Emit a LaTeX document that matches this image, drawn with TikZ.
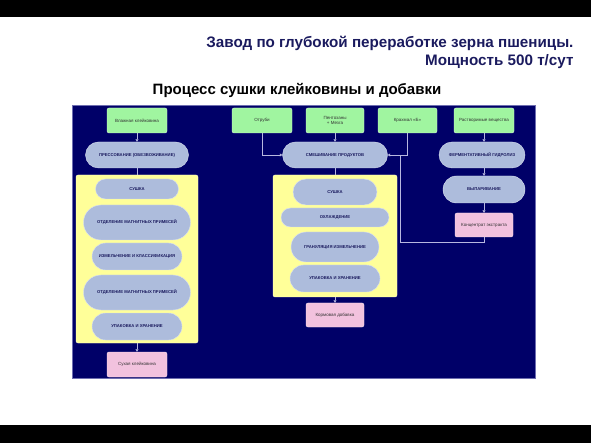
\documentclass[tikz,border=0pt]{standalone}
\usepackage{fontspec}
\setmainfont{Liberation Sans}
\usetikzlibrary{arrows.meta}
\definecolor{panelblue}{HTML}{000068}
\definecolor{boxgreen}{HTML}{A0F5A0}
\definecolor{pillblue}{HTML}{ADBCDC}
\definecolor{boxyellow}{HTML}{FFFF99}
\definecolor{boxpink}{HTML}{F2C2DE}
\definecolor{titleblue}{HTML}{1A1A5E}
\definecolor{linegray}{HTML}{B8B8E0}
\begin{document}
\begin{tikzpicture}[x=1pt,y=-1pt,
  source/.style={draw=white!60!boxgreen, fill=boxgreen, rounded corners=2pt, minimum width=60pt, minimum height=25pt, inner sep=1pt, align=center, text=black!80, font=\fontsize{4.5}{5.2}\selectfont},
  product/.style={source, draw=white!60!boxpink, fill=boxpink},
  stage/.style 2 args={draw=white!55!pillblue, fill=pillblue, minimum width=#1pt, minimum height=#2pt, rounded corners=#2pt/2, inner sep=0pt, text=titleblue, font=\fontsize{4.2}{5}\selectfont\bfseries},
  zone/.style 2 args={draw=white!60!boxyellow, fill=boxyellow, rounded corners=2pt, minimum width=#1pt, minimum height=#2pt},
  flow/.style={draw=linegray, line width=0.6pt},
  into/.style={flow, -{Triangle[length=2.5pt,width=3pt]}}]
\useasboundingbox (0,0) rectangle (591,443);
% frame
\fill[black] (0,0) rectangle (591,17);
\fill[black] (0,425) rectangle (591,443);
\node[anchor=east, align=right, text=titleblue, font=\fontsize{15.2}{17.5}\selectfont\bfseries] (title) at (577,52.5) {Завод по глубокой переработке зерна пшеницы.\\Мощность 500 т/сут};
\node[font=\fontsize{15}{17}\selectfont\bfseries] (subtitle) at (297,90) {Процесс сушки клейковины и добавки};
\draw[fill=panelblue, draw=linegray!60!panelblue] (72,105) rectangle (535,378);
% gluten line
\node[source] (wet) at (137,120.5) {Влажная клейковина};
\node[stage={103}{26}] (press) at (137,155) {ПРЕССОВАНИЕ (ОБЕЗВОЖИВАНИЕ)};
\node[zone={122}{168}] (dryzone) at (137,259) {};
\node[stage={83}{20}] (dry) at (137,189) {СУШКА};
\node[stage={107}{35}] (magnet) at (137,222.5) {ОТДЕЛЕНИЕ МАГНИТНЫХ ПРИМЕСЕЙ};
\node[stage={90}{27}] (mill) at (137,256.5) {ИЗМЕЛЬЧЕНИЕ И КЛАССИФИКАЦИЯ};
\node[stage={107}{35}] (magnetb) at (137,292.5) {ОТДЕЛЕНИЕ МАГНИТНЫХ ПРИМЕСЕЙ};
\node[stage={90}{27}] (pack) at (137,326.5) {УПАКОВКА И ХРАНЕНИЕ};
\node[product] (gluten) at (137,364.5) {Сухая клейковина};
% feed line
\node[source] (bran) at (262,120.5) {Отруби};
\node[source, minimum width=58pt] (pent) at (335,120.5) {Пентозаны\\+ Мезга};
\node[source, minimum width=59pt] (starch) at (407.5,120.5) {Крахмал «Б»};
\node[stage={105}{26}] (mix) at (335,155) {СМЕШИВАНИЕ ПРОДУКТОВ};
\node[zone={124}{122}] (feedzone) at (335,236) {};
\node[stage={84}{26}] (feeddry) at (335,192) {СУШКА};
\node[stage={108}{19}] (cool) at (335,217.5) {ОХЛАЖДЕНИЕ};
\node[stage={88}{30}] (gran) at (335,247) {ГРАНУЛЯЦИЯ ИЗМЕЛЬЧЕНИЕ};
\node[stage={90}{27}] (feedpack) at (335,278.5) {УПАКОВКА И ХРАНЕНИЕ};
\node[product, minimum width=58pt, minimum height=24pt] (feed) at (335,315) {Кормовая добавка};
% extract line
\node[source] (soluble) at (484,120.5) {Растворимые вещества};
\node[stage={86}{26}] (hydro) at (482,155) {ФЕРМЕНТАТИВНЫЙ ГИДРОЛИЗ};
\node[stage={82}{27}] (evap) at (484,189.5) {ВЫПАРИВАНИЕ};
\node[product, minimum width=58pt, minimum height=24pt] (extract) at (484,225) {Концентрат экстракта};
\coordinate (joint) at (400,155);
\coordinate (bend) at (400,242);
% connectors
\draw[into] (wet) -- (press);
\draw[flow] (press) -- (dryzone);
\draw[into] (dryzone) -- (gluten);
\draw[into] (bran) |- (mix);
\draw[into] (pent) -- (mix);
\draw[into] (starch) |- (mix);
\draw[flow] (extract) |- (bend) -- (joint);
\draw[into] (soluble) -- (soluble |- hydro.north);
\draw[into] (hydro.south -| evap) -- (evap);
\draw[into] (evap) -- (extract);
\draw[flow] (mix) -- (feedzone);
\draw[into] (feedzone) -- (feed);
\end{tikzpicture}
\end{document}
